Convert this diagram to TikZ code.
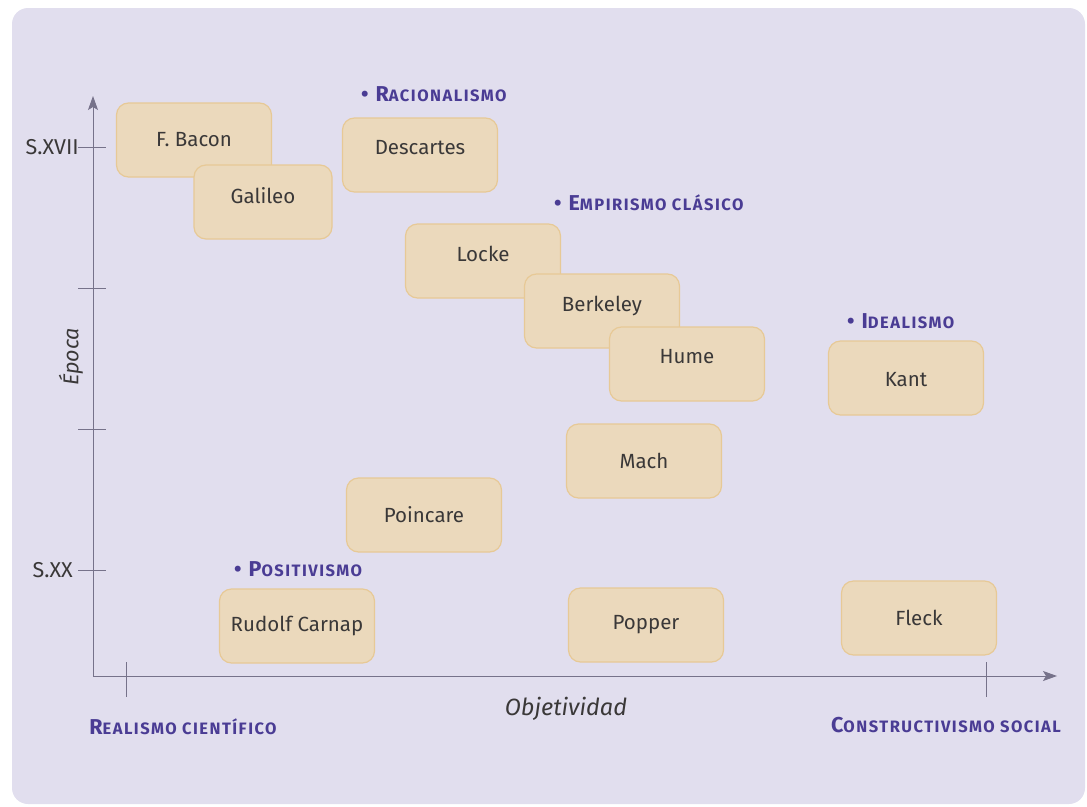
\documentclass[tikz,border=0pt]{standalone}
\usepackage{fontspec}
\setmainfont{Fira Sans}
\newfontfamily\schoolfont{Fira Sans}[LetterSpace=9]
\usetikzlibrary{arrows.meta}

\definecolor{panelbg}{RGB}{225,222,238}
\definecolor{boxfill}{RGB}{235,217,188}
\definecolor{boxline}{RGB}{231,201,150}
\definecolor{axisgray}{RGB}{118,114,138}
\definecolor{schoolpurple}{RGB}{74,60,148}
\definecolor{textgray}{RGB}{58,56,56}

% fake small caps: big first letter, smaller capitals after it
\newcommand{\scname}[2]{{\fontsize{21.5}{21.5}\selectfont #1}{\fontsize{16.5}{16.5}\selectfont #2}}
% lift a label inside its box without changing the box
\newcommand{\lift}[2]{\raisebox{#1}[\height][\depth]{#2}}

\tikzset{
	thinker/.style={draw=boxline, fill=boxfill, line width=1.2pt, rounded corners=12pt,
		minimum width=155pt, minimum height=74pt, text=textgray, font=\fontsize{20.5}{20.5}\selectfont},
	school/.style={text=schoolpurple, font=\schoolfont\bfseries, inner sep=0pt},
	axislbl/.style={text=textgray, font=\fontsize{23.5}{23.5}\selectfont\itshape, inner sep=0pt},
	ticklbl/.style={text=textgray, font=\fontsize{21.5}{21.5}\selectfont, inner sep=1pt},
	axisline/.style={draw=axisgray, line width=1pt}
}

\begin{document}
\begin{tikzpicture}[x=1pt,y=-1pt]
	\useasboundingbox (0,0) rectangle (1087,806);
	\fill[panelbg, rounded corners=16pt] (12,8) rectangle (1085,804);

	% axes
	\coordinate (origin) at (93,676);
	\coordinate (ytop) at (93,96);
	\coordinate (xend) at (1057,676);
	\draw[axisline, -{Stealth[length=14pt,width=10pt,inset=3pt]}] (origin) -- (ytop);
	\draw[axisline, -{Stealth[length=14pt,width=10pt,inset=3pt]}] (origin) -- (xend);
	\foreach \y in {147,288,429,570}
		\draw[axisline] (78,\y) -- (106,\y);
	\foreach \x in {126,986}
		\draw[axisline] (\x,662) -- (\x,697);

	\node[ticklbl, anchor=east] (s17) at (80,147) {S.XVII};
	\node[ticklbl, anchor=east] (s20) at (74,570) {S.XX};
	\node[axislbl, font=\fontsize{21.5}{21.5}\selectfont\itshape, rotate=90] (epoca) at (71,357) {Época};
	\node[axislbl] (objet) at (566,709) {Objetividad};

	% thinkers
	\node[thinker] (bacon) at (194,140) {F. Bacon};
	\node[thinker, minimum width=138pt] (galileo) at (263,202) {\lift{6pt}{Galileo}};
	\node[thinker] (descartes) at (420,155) {\lift{7pt}{Descartes}};
	\node[thinker] (locke) at (483,261) {\lift{7pt}{Locke}};
	\node[thinker] (berkeley) at (602,311) {\lift{5pt}{Berkeley}};
	\node[thinker] (hume) at (687,364) {\lift{7pt}{Hume}};
	\node[thinker] (kant) at (906,378) {\lift{-2pt}{Kant}};
	\node[thinker] (mach) at (644,461) {Mach};
	\node[thinker] (poincare) at (424,515) {Poincare};
	\node[thinker] (carnap) at (297,626) {Rudolf Carnap};
	\node[thinker] (popper) at (646,625) {Popper};
	\node[thinker] (fleck) at (919,618) {Fleck};

	% schools
	\node[school, anchor=west] (racional) at (361,94) {\scname{•\ R}{ACIONALISMO}};
	\node[school, anchor=west] (empiri) at (554,203) {\scname{•\ E}{MPIRISMO CLÁSICO}};
	\node[school, anchor=west] (ideal) at (847,321) {\scname{•\ I}{DEALISMO}};
	\node[school, anchor=west] (positiv) at (234,569) {\scname{•\ P}{OSITIVISMO}};
	\node[school] (realismo) at (183,727) {\scname{R}{EALISMO CIENTÍFICO}};
	\node[school] (construct) at (946,725) {\scname{C}{ONSTRUCTIVISMO SOCIAL}};
\end{tikzpicture}
\end{document}
